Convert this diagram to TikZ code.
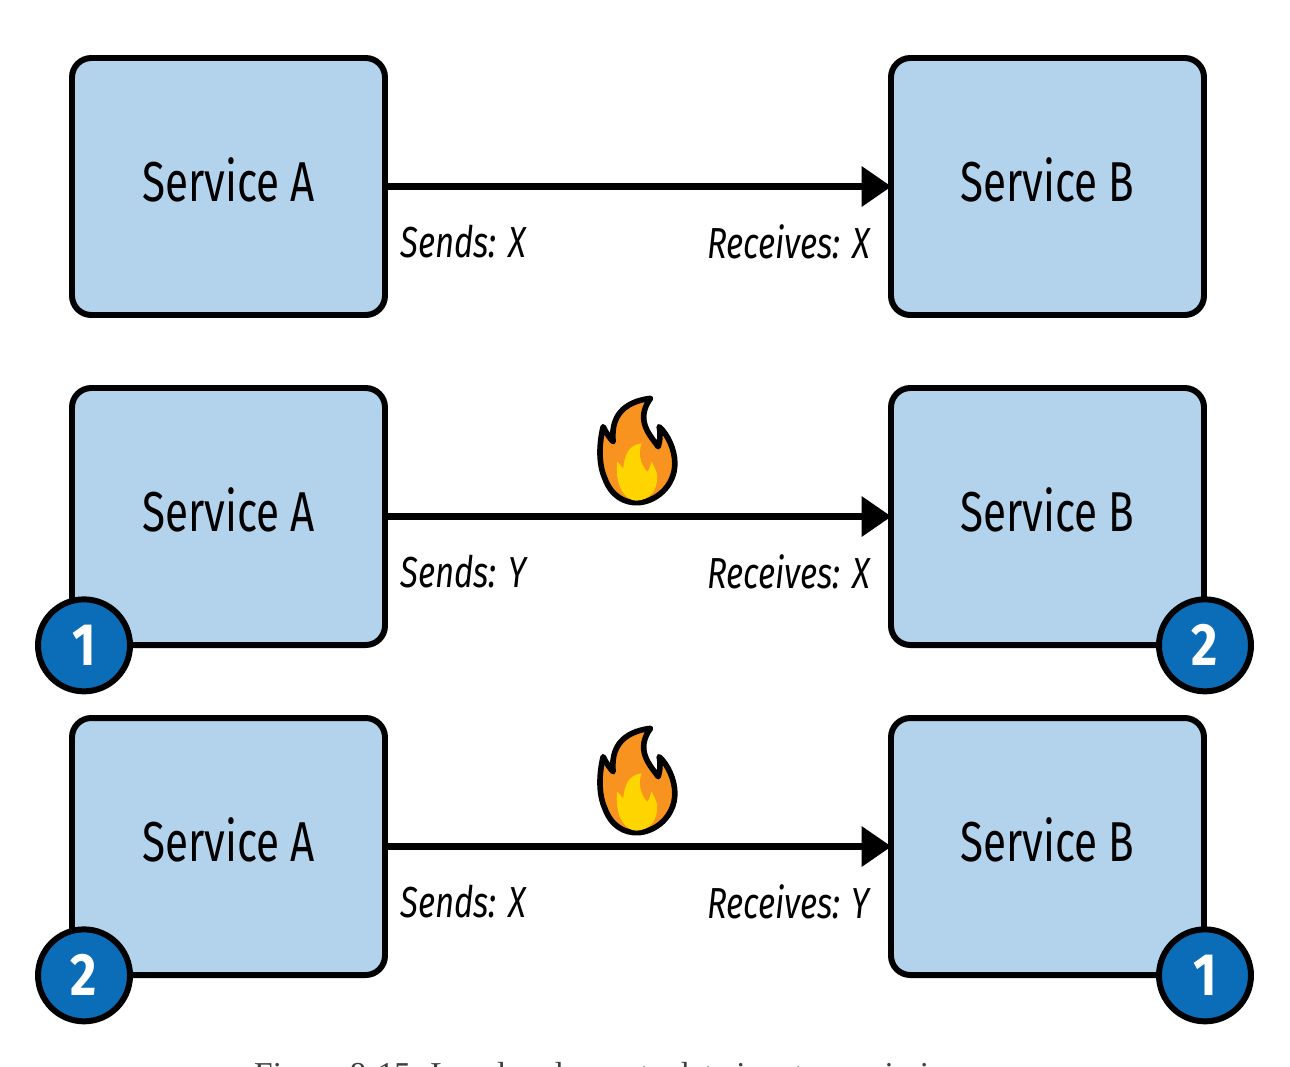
\documentclass[tikz,border=0pt]{standalone}
\usepackage{fontspec}
\setmainfont{Fira Sans}
\newfontfamily\capfont{Liberation Serif}
\usetikzlibrary{arrows.meta,positioning}

\definecolor{boxblue}{HTML}{B3D3EC}
\definecolor{badgeblue}{HTML}{0B6CB8}
\definecolor{flameorange}{HTML}{F7931E}
\definecolor{flameyellow}{HTML}{FFD500}

\newcommand{\badgenum}[1]{\scalebox{.85}[1]{#1}}

\tikzset{
  service/.style={draw,line width=3.4pt,rounded corners=11pt,fill=boxblue,
    minimum width=6.26cm,minimum height=5.14cm,inner sep=0pt},
  servicetext/.style={font=\fontsize{32}{32}\selectfont,xscale=.75,yshift=4pt},
  link/.style={line width=4.4pt,shorten >=-2pt,-{Triangle[length=17pt,width=22pt]}},
  note/.style={font=\itshape\fontsize{24.7}{25}\selectfont,xscale=.76,inner sep=0pt},
  badge/.style={circle,draw,line width=3.4pt,fill=badgeblue,text=white,
    minimum size=1.84cm,inner sep=0pt,font=\fontsize{34}{34}\selectfont\bfseries},
  flame/.pic={
    \begin{scope}[x=.00667cm,y=-.00667cm,shift={(-230,-210)}]
      \draw[line width=3.2pt,line join=round,fill=flameorange]
        (272,55) .. controls (215,62) and (150,90) .. (160,185)
        .. controls (150,175) and (140,160) .. (130,140)
        .. controls (118,190) and (115,250) .. (135,295)
        .. controls (155,350) and (195,368) .. (230,368)
        .. controls (285,368) and (345,320) .. (345,250)
        .. controls (345,210) and (325,165) .. (298,140)
        .. controls (303,165) and (300,185) .. (295,200)
        .. controls (270,165) and (225,120) .. (272,55) -- cycle;
      \fill[flameyellow]
        (245,190) .. controls (205,195) and (195,225) .. (190,265)
        .. controls (185,260) and (178,250) .. (172,245)
        .. controls (165,300) and (185,360) .. (230,362)
        .. controls (270,360) and (295,330) .. (292,285)
        .. controls (290,270) and (280,255) .. (275,245)
        .. controls (270,260) and (268,270) .. (262,275)
        .. controls (240,250) and (235,220) .. (245,190) -- cycle;
    \end{scope}
  }
}

\begin{document}
\begin{tikzpicture}
  \useasboundingbox (0,0) rectangle (25.8,-21.32);

  % servicii
  \foreach \row/\ypos/\sent/\got in {top/-3.73/X/X,mid/-10.33/Y/X,low/-16.93/X/Y} {
    \node[service] (A\row) at (4.57,\ypos) {};
    \node[service] (B\row) at (20.95,\ypos) {};
    \node[servicetext] (tA\row) at (A\row) {Service A};
    \node[servicetext] (tB\row) at (B\row) {Service B};
    \draw[link] (A\row) -- (B\row);
    \node[note,below right=.76cm and .24cm of A\row.east] (s\row) {Sends: \sent};
    \node[note,below left=.76cm and .36cm of B\row.west] (r\row) {Receives: \got};
  }

  % flăcări
  \pic at (12.73,-9) {flame};
  \pic at (12.73,-15.6) {flame};

  % numere
  \node[badge,xshift=.3cm,yshift=1.5pt] (one) at (Amid.south west) {\badgenum{1}};
  \node[badge,xshift=-.04cm,yshift=1.5pt] (two) at (Bmid.south east) {\badgenum{2}};
  \node[badge,xshift=.3cm,yshift=1.5pt] (three) at (Alow.south west) {\badgenum{2}};
  \node[badge,xshift=-.04cm,yshift=1.5pt] (four) at (Blow.south east) {\badgenum{1}};

  % legendă
  \begin{scope}
    \clip (0,0) rectangle (25.8,-21.32);
    \node[anchor=north,font=\capfont\fontsize{19}{19}\selectfont,text=black!75] (caption)
      at (12.9,-21.12) {Figure 8-15. Local and remote data in a transmission error};
  \end{scope}
\end{tikzpicture}
\end{document}
